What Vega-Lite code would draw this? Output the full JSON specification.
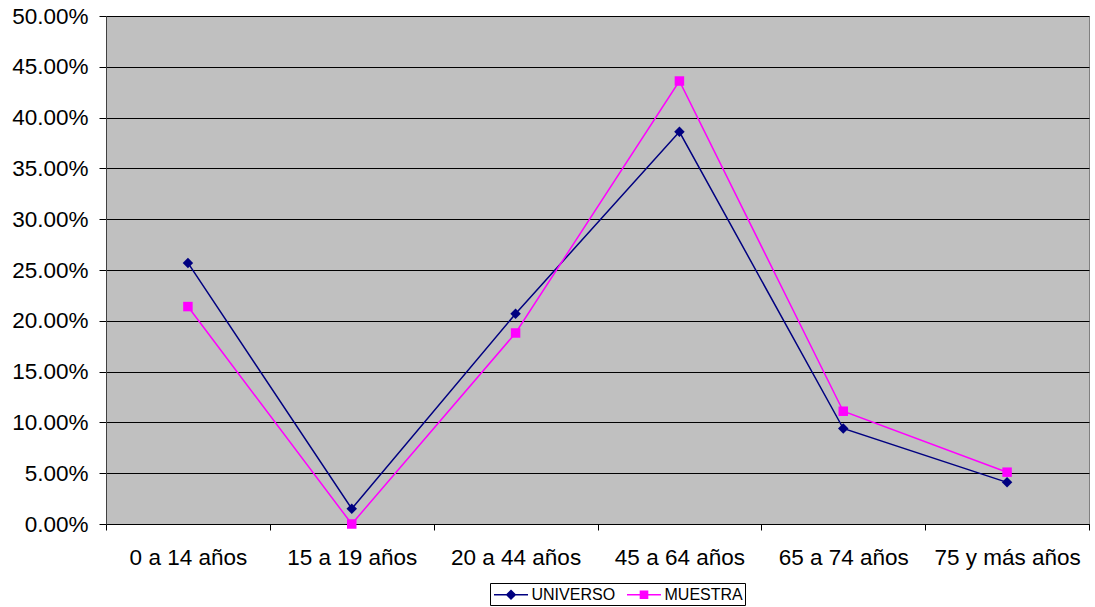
{
  "$schema": "https://vega.github.io/schema/vega-lite/v6.json",
  "width": 983,
  "height": 508,
  "autosize": {"type": "none"},
  "padding": {"left": 106, "top": 16, "right": 6, "bottom": 83},
  "background": "white",
  "config": {
    "view": {"fill": "#C0C0C0", "stroke": "#808080", "strokeWidth": 1},
    "font": "Liberation Sans"
  },
  "data": {
    "values": [
      {"grupo": "0 a 14 años", "serie": "UNIVERSO", "valor": 0.257},
      {"grupo": "15 a 19 años", "serie": "UNIVERSO", "valor": 0.015},
      {"grupo": "20 a 44 años", "serie": "UNIVERSO", "valor": 0.207},
      {"grupo": "45 a 64 años", "serie": "UNIVERSO", "valor": 0.386},
      {"grupo": "65 a 74 años", "serie": "UNIVERSO", "valor": 0.094},
      {"grupo": "75 y más años", "serie": "UNIVERSO", "valor": 0.041},
      {"grupo": "0 a 14 años", "serie": "MUESTRA", "valor": 0.214},
      {"grupo": "15 a 19 años", "serie": "MUESTRA", "valor": 0.0},
      {"grupo": "20 a 44 años", "serie": "MUESTRA", "valor": 0.188},
      {"grupo": "45 a 64 años", "serie": "MUESTRA", "valor": 0.436},
      {"grupo": "65 a 74 años", "serie": "MUESTRA", "valor": 0.111},
      {"grupo": "75 y más años", "serie": "MUESTRA", "valor": 0.051}
    ]
  },
  "encoding": {
    "x": {
      "field": "grupo", "type": "nominal", "sort": null,
      "scale": {"type": "band", "paddingInner": 0, "paddingOuter": 0},
      "axis": {
        "title": null, "labelAngle": 0, "tickBand": "extent",
        "labelFont": "Liberation Sans", "labelFontSize": 22.5, "labelColor": "black",
        "labelPadding": 16, "tickSize": 6, "tickColor": "black", "domainColor": "black",
        "grid": false
      }
    },
    "y": {
      "field": "valor", "type": "quantitative",
      "scale": {"domain": [0, 0.5], "nice": false},
      "axis": {
        "title": null, "format": ".2%", "values": [0, 0.05, 0.1, 0.15, 0.2, 0.25, 0.3, 0.35, 0.4, 0.45, 0.5],
        "labelFont": "Liberation Sans", "labelFontSize": 22.5, "labelColor": "black",
        "labelPadding": 11, "tickSize": 7, "tickColor": "black", "domainColor": "#404040",
        "grid": true, "gridColor": "black", "gridOpacity": 1, "gridWidth": 1
      }
    }
  },
  "layer": [
    {
      "mark": {"type": "line", "strokeWidth": 1.5},
      "encoding": {
        "color": {
          "field": "serie", "type": "nominal",
          "scale": {"domain": ["UNIVERSO", "MUESTRA"], "range": ["#000080", "#FF00FF"]},
          "legend": {
            "orient": "none", "legendX": 384, "legendY": 567, "direction": "horizontal",
            "title": null, "strokeColor": "black", "padding": 2,
            "labelFont": "Liberation Sans", "labelFontSize": 16, "labelColor": "black",
            "symbolSize": 289, "symbolStrokeWidth": 1.5, "symbolOffset": 9.5,
            "labelOffset": 11, "columnPadding": 8,
            "encode": {
              "symbols": {
                "update": {
                  "shape": {"signal": "datum.value === 'UNIVERSO' ? 'M-2,0H2M0,-0.5L0.5,0L0,0.5L-0.5,0Z' : 'M-2,0H2M-0.42,-0.42H0.42V0.42H-0.42Z'"},
                  "fill": {"signal": "datum.value === 'UNIVERSO' ? '#000080' : '#FF00FF'"},
                  "stroke": {"signal": "datum.value === 'UNIVERSO' ? '#000080' : '#FF00FF'"},
                  "size": {"value": 289},
                  "strokeWidth": {"value": 1.5}
                }
              }
            }
          }
        }
      }
    },
    {
      "transform": [{"filter": "datum.serie === 'UNIVERSO'"}],
      "mark": {"type": "point", "shape": "diamond", "filled": true, "size": 110, "color": "#000080", "opacity": 1}
    },
    {
      "transform": [{"filter": "datum.serie === 'MUESTRA'"}],
      "mark": {"type": "point", "shape": "square", "filled": true, "size": 90, "color": "#FF00FF", "opacity": 1}
    }
  ]
}
